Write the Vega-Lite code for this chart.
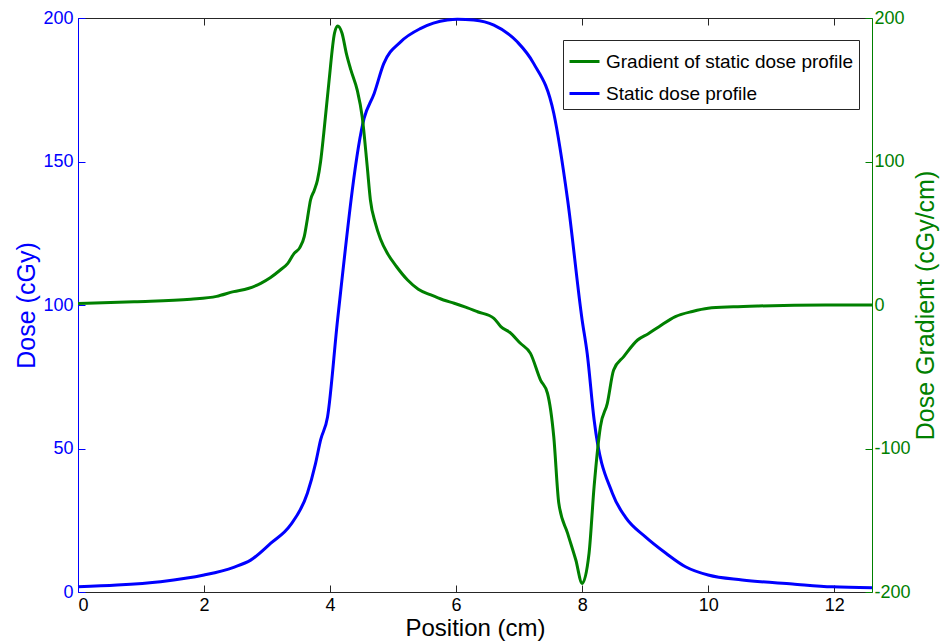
{
  "$schema": "https://vega.github.io/schema/vega-lite/v6.json",
  "autosize": {"type": "none"},
  "width": 794,
  "height": 574,
  "padding": {"left": 78, "top": 18, "right": 73, "bottom": 51},
  "background": "white",
  "config": {
    "font": "Liberation Sans",
    "view": {"stroke": null},
    "axis": {"grid": false, "labelFontSize": 18, "titleFontSize": 25, "titleFontWeight": "normal", "tickSize": -7, "labelPadding": 12, "domainWidth": 1, "tickWidth": 1, "labelFont": "Liberation Sans", "titleFont": "Liberation Sans", "labelExpr": "'' + datum.value"},
    "legend": {"labelFont": "Liberation Sans"}
  },
  "datasets": {
    "dose": [
      {"x": 0, "v": 1.8}, {"x": 0.62, "v": 2.4}, {"x": 1.31, "v": 3.6}, {"x": 2.0, "v": 5.9},
      {"x": 2.47, "v": 8.6}, {"x": 2.74, "v": 11.1}, {"x": 3.06, "v": 17}, {"x": 3.37, "v": 23.3},
      {"x": 3.64, "v": 34.4}, {"x": 3.77, "v": 44.8}, {"x": 3.85, "v": 53}, {"x": 3.96, "v": 61},
      {"x": 4.12, "v": 95}, {"x": 4.54, "v": 165}, {"x": 4.7, "v": 173.7}, {"x": 4.85, "v": 184},
      {"x": 5.12, "v": 191.7}, {"x": 5.44, "v": 196.4}, {"x": 5.86, "v": 199.3}, {"x": 6.02, "v": 199.6},
      {"x": 6.28, "v": 199.3}, {"x": 6.6, "v": 197.5}, {"x": 6.97, "v": 191.7}, {"x": 7.23, "v": 184.2},
      {"x": 7.55, "v": 166.8}, {"x": 7.77, "v": 136.6}, {"x": 8.0, "v": 94.8}, {"x": 8.08, "v": 83.2},
      {"x": 8.19, "v": 60}, {"x": 8.48, "v": 34.4}, {"x": 8.69, "v": 26}, {"x": 9.0, "v": 19.3},
      {"x": 9.33, "v": 13.5}, {"x": 9.64, "v": 8.8}, {"x": 10.0, "v": 5.9}, {"x": 10.54, "v": 4.2},
      {"x": 11.34, "v": 2.8}, {"x": 11.97, "v": 1.8}, {"x": 12.6, "v": 1.5}
    ],
    "grad": [
      {"x": 0, "g": 1}, {"x": 0.89, "g": 2.3}, {"x": 1.79, "g": 4}, {"x": 2.2, "g": 6},
      {"x": 2.47, "g": 9.3}, {"x": 2.7, "g": 11.5}, {"x": 2.9, "g": 15.1}, {"x": 3.05, "g": 19},
      {"x": 3.21, "g": 24.4}, {"x": 3.33, "g": 29}, {"x": 3.43, "g": 36}, {"x": 3.52, "g": 40},
      {"x": 3.59, "g": 47.6}, {"x": 3.64, "g": 60}, {"x": 3.69, "g": 73.2}, {"x": 3.75, "g": 80},
      {"x": 3.8, "g": 87}, {"x": 3.85, "g": 100}, {"x": 3.9, "g": 119.7}, {"x": 3.98, "g": 154.5},
      {"x": 4.07, "g": 189.4}, {"x": 4.12, "g": 194.5}, {"x": 4.19, "g": 189.4}, {"x": 4.26, "g": 175},
      {"x": 4.33, "g": 163.8}, {"x": 4.43, "g": 149.9}, {"x": 4.51, "g": 131.2}, {"x": 4.59, "g": 96.4},
      {"x": 4.64, "g": 73.2}, {"x": 4.72, "g": 56.9}, {"x": 4.8, "g": 46}, {"x": 4.91, "g": 36},
      {"x": 5.05, "g": 27}, {"x": 5.23, "g": 17.4}, {"x": 5.4, "g": 11}, {"x": 5.6, "g": 7},
      {"x": 5.8, "g": 3.5}, {"x": 5.97, "g": 1.2}, {"x": 6.15, "g": -1.5}, {"x": 6.34, "g": -4.7},
      {"x": 6.6, "g": -9.3}, {"x": 6.71, "g": -15.1}, {"x": 6.85, "g": -19}, {"x": 7.02, "g": -26.7},
      {"x": 7.18, "g": -33.7}, {"x": 7.34, "g": -52.3}, {"x": 7.45, "g": -61.5}, {"x": 7.55, "g": -91.8},
      {"x": 7.63, "g": -138.2}, {"x": 7.77, "g": -159.1}, {"x": 7.9, "g": -177.7}, {"x": 8.0, "g": -194},
      {"x": 8.11, "g": -173}, {"x": 8.19, "g": -126.6}, {"x": 8.29, "g": -84.8}, {"x": 8.4, "g": -68.5},
      {"x": 8.5, "g": -45.3}, {"x": 8.66, "g": -36}, {"x": 8.88, "g": -24.4}, {"x": 9.05, "g": -20},
      {"x": 9.22, "g": -15.1}, {"x": 9.48, "g": -8.1}, {"x": 9.75, "g": -4.5}, {"x": 10.0, "g": -2.3},
      {"x": 10.4, "g": -1.3}, {"x": 10.8, "g": -0.7}, {"x": 11.86, "g": 0}, {"x": 12.6, "g": 0}
    ]
  },
  "layer": [
    {
      "data": {"name": "dose"},
      "mark": {"type": "line", "strokeWidth": 3, "interpolate": "monotone"},
      "encoding": {
        "x": {"field": "x", "type": "quantitative", "scale": {"domain": [0, 12.6], "nice": false},
          "axis": {"values": [0, 2, 4, 6, 8, 10, 12], "title": "Position (cm)", "domainColor": "#262626", "tickColor": "#262626", "labelColor": "black", "titleColor": "black", "labelPadding": 11, "titleFontSize": 24, "titlePadding": 2}},
        "y": {"field": "v", "type": "quantitative", "scale": {"domain": [0, 200], "nice": false},
          "axis": {"values": [0, 50, 100, 150, 200], "title": "Dose (cGy)", "orient": "left", "domainColor": "#0000FF", "tickColor": "#0000FF", "labelColor": "#0000FF", "titleColor": "#0000FF", "titlePadding": 3}},
        "color": {"datum": "Static dose profile", "type": "nominal",
          "scale": {"domain": ["Gradient of static dose profile", "Static dose profile"], "range": ["#008000", "#0000FF"]},
          "legend": {"title": null, "orient": "none", "legendX": 485, "legendY": 22, "strokeColor": "#262626", "fillColor": "white", "padding": 5, "rowPadding": 5, "symbolType": "stroke", "symbolSize": 900, "symbolStrokeWidth": 3, "labelFontSize": 19, "labelOffset": 5, "labelLimit": 0, "labelColor": "black"}}
      }
    },
    {
      "data": {"name": "grad"},
      "mark": {"type": "line", "strokeWidth": 3, "interpolate": "monotone"},
      "encoding": {
        "x": {"field": "x", "type": "quantitative", "scale": {"domain": [0, 12.6], "nice": false},
          "axis": {"orient": "top", "values": [0, 2, 4, 6, 8, 10, 12], "labels": false, "title": null, "domainColor": "#262626", "tickColor": "#262626"}},
        "y": {"field": "g", "type": "quantitative", "scale": {"domain": [-200, 200], "nice": false},
          "axis": {"values": [-200, -100, 0, 100, 200], "title": "Dose Gradient (cGy/cm)", "orient": "right", "titleAngle": 270, "domainColor": "#008000", "tickColor": "#008000", "labelColor": "#008000", "titleColor": "#008000", "labelPadding": 9, "titlePadding": 28}},
        "color": {"datum": "Gradient of static dose profile", "type": "nominal"}
      }
    }
  ],
  "resolve": {"scale": {"y": "independent"}, "axis": {"x": "independent", "y": "independent"}}
}
